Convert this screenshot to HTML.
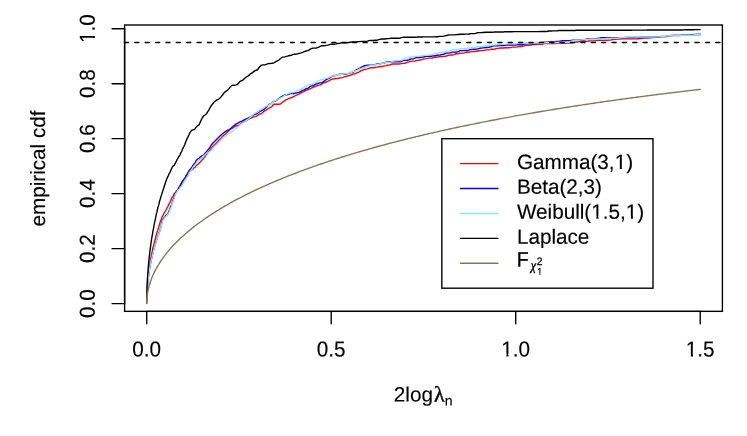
<!DOCTYPE html>
<html><head><meta charset="utf-8"><title>empirical cdf</title>
<style>
html,body{margin:0;padding:0;background:#fff;}
body{width:747px;height:436px;overflow:hidden;font-family:"Liberation Sans",sans-serif;}
</style></head><body>
<svg width="747" height="436" viewBox="0 0 747 436" style="display:block;will-change:transform">
<rect x="0" y="0" width="747" height="436" fill="#ffffff"/>
<defs><clipPath id="c1"><path d="M-2.070,-18.630 H14.490 V-2.678 H7.196 V2.070 H5.044 V-2.678 H-2.070 Z"/></clipPath><clipPath id="c1s"><path d="M-1.000,-9.000 H7.000 V-1.294 H3.477 V1.000 H2.437 V-1.294 H-1.000 Z"/></clipPath></defs>
<g fill="none" stroke-linejoin="round" stroke-linecap="butt" stroke-width="1.38">
<polyline stroke="#ff0000" points="146.97,292.37 147.22,287.71 147.47,284.14 147.72,281.13 147.97,278.49 148.22,276.09 148.47,273.90 148.72,271.87 148.97,269.96 149.22,268.14 149.47,266.42 149.72,264.78 149.97,263.21 150.22,261.65 150.47,260.34 150.72,258.89 150.97,257.35 151.22,255.94 151.47,254.75 151.72,253.59 151.97,252.52 152.22,251.61 152.47,250.16 152.72,248.29 152.97,247.15 153.22,246.50 153.47,245.65 153.72,244.72 153.97,243.98 154.22,243.04 154.47,241.64 154.72,240.75 154.97,240.25 155.22,239.28 155.47,238.09 155.72,236.81 155.97,235.75 156.22,235.14 156.47,234.32 156.72,233.24 156.97,232.45 157.22,231.72 157.47,230.86 157.72,230.15 157.97,229.45 158.22,228.55 158.47,227.69 158.72,227.03 158.97,226.29 159.22,225.21 159.47,224.23 159.72,223.48 159.97,222.72 160.00,222.58 160.50,221.03 161.00,219.83 161.50,218.52 162.00,217.13 162.50,216.18 163.00,215.38 163.50,214.38 164.00,213.19 164.50,212.27 165.00,211.58 165.50,210.76 166.00,210.01 166.50,209.03 167.00,207.83 167.50,207.11 168.00,206.35 168.50,205.04 169.00,203.88 169.50,203.04 170.00,202.11 170.50,201.01 171.00,199.65 171.50,198.40 172.00,197.55 172.50,196.81 173.00,196.08 173.50,195.05 174.00,193.86 174.50,193.25 175.00,193.04 175.50,192.42 176.00,191.53 176.50,190.92 177.00,190.42 177.50,189.83 178.00,189.12 178.50,188.21 179.00,187.25 179.50,186.50 180.00,185.59 180.50,184.43 181.00,183.75 181.50,183.06 182.00,182.16 182.50,181.47 183.00,180.82 183.50,180.14 184.00,179.40 184.50,178.76 185.00,178.12 185.50,177.12 186.00,175.94 186.50,175.25 187.00,174.93 187.50,174.08 188.00,173.13 188.50,172.56 189.00,172.09 189.50,171.67 190.00,171.15 190.50,170.59 191.00,170.20 191.50,169.88 192.00,169.54 192.50,169.50 193.00,169.17 193.50,168.10 194.00,167.66 194.50,167.66 195.00,167.66 195.50,166.65 196.00,165.93 196.50,165.67 197.00,165.10 197.50,164.55 198.00,164.23 198.50,163.85 199.00,163.34 199.50,162.85 200.00,162.26 201.25,160.86 202.50,159.50 203.75,158.11 205.00,156.60 206.25,154.84 207.50,153.25 208.75,151.67 210.00,149.90 211.25,148.33 212.50,146.98 213.75,145.55 215.00,144.28 216.25,143.16 217.50,141.77 218.75,140.38 220.00,139.24 221.25,137.85 222.50,136.38 223.75,135.22 225.00,134.39 226.25,133.40 227.50,131.98 228.75,130.58 230.00,129.39 231.25,128.74 232.50,128.21 233.75,127.27 235.00,126.46 236.25,126.00 237.50,125.56 238.75,125.10 240.00,124.52 241.25,123.50 242.50,122.48 243.75,121.80 245.00,121.18 246.25,120.52 247.50,119.87 248.75,119.07 250.00,118.38 251.25,118.04 252.50,117.43 253.75,116.82 255.00,116.65 256.25,116.29 257.50,115.50 258.75,114.54 260.00,113.97 261.25,113.74 262.50,112.77 263.75,111.42 265.00,110.61 266.25,109.88 267.50,109.01 268.75,108.32 270.00,107.71 271.25,107.11 272.50,105.71 273.75,104.22 275.00,104.22 276.25,104.22 277.50,104.22 278.75,104.22 280.00,104.10 281.25,103.19 282.50,102.29 283.75,101.43 285.00,100.28 286.25,99.58 287.50,99.06 288.75,98.46 290.00,98.10 291.25,97.79 292.50,97.03 293.75,96.39 295.00,95.95 296.25,95.26 297.50,94.62 298.75,94.05 300.00,93.39 301.25,92.67 302.50,92.09 303.75,91.56 305.00,90.96 306.25,90.39 307.50,89.89 308.75,89.42 310.00,88.80 311.25,88.16 312.50,87.58 313.75,86.98 315.00,86.53 316.25,86.15 317.50,85.54 318.75,85.06 320.00,84.83 321.25,84.34 322.50,83.45 323.75,82.73 325.00,82.51 326.25,82.01 327.50,81.31 328.75,80.89 330.00,80.13 331.25,79.38 332.50,79.05 333.75,78.85 335.00,78.53 336.25,78.51 337.50,78.51 338.75,78.22 340.00,77.84 341.25,77.84 342.50,77.56 343.75,77.10 345.00,76.66 346.25,76.34 347.50,76.00 348.75,75.62 350.00,75.33 351.25,74.80 352.50,74.29 353.75,74.07 355.00,73.75 356.25,73.13 357.50,72.62 358.75,72.10 360.00,71.25 361.25,70.67 362.50,70.23 363.75,69.64 365.00,69.29 366.25,69.15 367.50,68.84 368.75,68.30 370.00,68.02 371.25,67.75 372.50,67.75 373.75,67.75 375.00,67.47 376.25,67.08 377.50,67.08 378.75,66.75 380.00,66.51 381.25,66.51 382.50,66.51 383.75,66.14 385.00,65.88 386.25,65.64 387.50,65.27 388.75,65.09 390.00,64.81 391.25,64.28 392.50,64.05 393.75,64.05 395.00,64.05 396.25,64.05 397.50,64.05 398.75,64.03 400.00,63.86 401.25,63.55 402.50,63.34 403.75,63.34 405.00,63.28 406.25,62.63 407.50,62.10 408.75,61.85 410.00,61.54 411.25,61.30 412.50,61.16 413.75,61.09 415.00,61.02 416.25,60.69 417.50,60.43 418.75,60.25 420.00,60.02 421.25,59.82 422.50,59.34 423.75,58.93 425.00,58.84 426.25,58.61 427.50,58.32 428.75,58.14 430.00,58.14 431.25,58.14 432.50,58.01 433.75,57.54 435.00,57.30 436.25,57.23 437.50,57.06 438.75,56.74 440.00,56.57 441.25,56.51 442.50,56.51 443.75,56.51 445.00,56.41 446.25,56.02 447.50,55.57 448.75,55.22 450.00,55.15 451.25,55.05 452.50,54.98 453.75,54.64 455.00,53.99 456.25,53.77 457.50,53.73 458.75,53.54 460.00,53.21 461.25,53.10 462.50,53.10 463.75,53.07 465.00,52.71 466.25,52.31 467.50,52.27 468.75,52.27 470.00,51.90 471.25,51.66 472.50,51.66 473.75,51.66 475.00,51.51 476.25,51.27 477.50,51.03 478.75,50.77 480.00,50.65 481.25,50.59 482.50,50.59 483.75,50.46 485.00,50.04 486.25,49.91 487.50,49.91 488.75,49.91 490.00,49.62 491.25,49.25 492.50,49.25 493.75,49.25 495.00,49.15 496.25,48.44 497.50,48.37 498.75,48.37 500.00,47.95 501.25,47.95 502.50,47.95 503.75,47.95 505.00,47.80 506.25,47.80 507.50,47.80 508.75,47.80 510.00,47.67 511.25,47.42 512.50,47.10 513.75,47.08 515.00,47.08 516.25,47.08 517.50,46.93 518.75,46.62 520.00,46.62 521.25,46.57 522.50,46.22 523.75,45.94 525.00,45.62 526.25,45.39 527.50,45.39 528.75,45.38 530.00,45.17 531.25,45.02 532.50,44.68 533.75,44.62 535.00,44.62 536.25,44.62 537.50,44.32 538.75,44.32 540.00,44.32 541.25,44.32 542.50,44.17 543.75,43.59 545.00,43.59 546.25,43.59 547.50,43.59 548.75,43.59 550.00,43.59 551.25,43.59 552.50,43.59 553.75,43.59 555.00,43.59 556.25,43.55 557.50,43.39 558.75,43.35 560.00,43.35 561.25,43.35 562.50,43.31 563.75,43.25 565.00,43.25 566.25,43.13 567.50,43.13 568.75,43.13 570.00,43.13 571.25,42.93 572.50,42.88 573.75,42.58 575.00,42.12 576.25,41.99 577.50,41.99 578.75,41.77 580.00,41.34 581.25,41.33 582.50,41.33 583.75,41.33 585.00,41.33 586.25,41.33 587.50,41.33 588.75,40.97 590.00,40.90 591.25,40.90 592.50,40.90 593.75,40.90 595.00,40.88 596.25,40.48 597.50,40.33 598.75,40.31 600.00,40.31 601.25,40.31 602.50,40.31 603.75,40.31 605.00,40.31 606.25,40.31 607.50,40.31 608.75,40.15 610.00,40.12 611.25,39.88 612.50,39.53 613.75,39.45 615.00,39.36 616.25,39.21 617.50,39.18 618.75,39.18 620.00,39.11 621.25,38.93 622.50,38.93 623.75,38.93 625.00,38.93 626.25,38.93 627.50,38.93 628.75,38.93 630.00,38.91 631.25,38.82 632.50,38.82 633.75,38.82 635.00,38.82 636.25,38.82 637.50,38.82 638.75,38.73 640.00,38.65 641.25,38.61 642.50,38.20 643.75,37.97 645.00,37.97 646.25,37.97 647.50,37.97 648.75,37.97 650.00,37.83 651.25,37.73 652.50,37.51 653.75,37.28 655.00,37.28 656.25,37.28 657.50,37.28 658.75,37.28 660.00,36.86 661.25,36.52 662.50,36.52 663.75,36.52 665.00,36.52 666.25,36.50 667.50,36.47 668.75,36.09 670.00,35.79 671.25,35.79 672.50,35.79 673.75,35.54 675.00,35.54 676.25,35.54 677.50,35.54 678.75,35.54 680.00,35.47 681.25,35.42 682.50,35.42 683.75,35.42 685.00,35.42 686.25,35.42 687.50,35.42 688.75,35.20 690.00,35.17 691.25,35.17 692.50,34.60 693.75,34.47 695.00,34.47 696.25,34.47 697.50,34.47 698.75,34.47 700.00,34.47 700.70,34.47"/>
<polyline stroke="#0000ff" points="146.97,293.35 147.22,289.09 147.47,285.82 147.72,283.07 147.97,280.66 148.22,278.46 148.47,276.47 148.72,274.61 148.97,272.85 149.22,271.19 149.47,269.61 149.72,268.11 149.97,266.68 150.22,265.30 150.47,264.05 150.72,262.72 150.97,261.38 151.22,260.09 151.47,258.96 151.72,258.02 151.97,256.97 152.22,255.85 152.47,254.67 152.72,253.53 152.97,252.89 153.22,251.97 153.47,250.33 153.72,248.98 153.97,248.34 154.22,247.87 154.47,247.17 154.72,246.37 154.97,245.47 155.22,244.47 155.47,243.54 155.72,242.73 155.97,241.87 156.22,240.82 156.47,240.03 156.72,239.63 156.97,238.99 157.22,237.81 157.47,236.77 157.72,236.28 157.97,235.84 158.22,235.23 158.47,234.43 158.72,233.57 158.97,233.19 159.22,232.55 159.47,231.46 159.72,230.90 159.97,230.39 160.00,230.26 160.50,228.54 161.00,226.41 161.50,223.71 162.00,221.28 162.50,219.87 163.00,219.16 163.50,218.41 164.00,217.72 164.50,217.31 165.00,216.83 165.50,216.05 166.00,215.20 166.50,214.82 167.00,214.78 167.50,214.35 168.00,213.50 168.50,212.26 169.00,210.97 169.50,209.90 170.00,208.51 170.50,206.90 171.00,205.76 171.50,204.80 172.00,203.35 172.50,201.70 173.00,200.09 173.50,198.69 174.00,197.52 174.50,196.11 175.00,194.69 175.50,193.53 176.00,192.51 176.50,191.81 177.00,191.04 177.50,190.13 178.00,189.38 178.50,188.48 179.00,187.56 179.50,186.74 180.00,186.01 180.50,185.27 181.00,184.32 181.50,183.35 182.00,182.43 182.50,181.43 183.00,180.51 183.50,179.89 184.00,179.34 184.50,178.63 185.00,177.97 185.50,177.27 186.00,176.09 186.50,175.12 187.00,174.42 187.50,173.45 188.00,172.58 188.50,171.75 189.00,170.81 189.50,170.02 190.00,169.54 190.50,168.82 191.00,168.12 191.50,167.81 192.00,167.13 192.50,166.11 193.00,165.25 193.50,164.62 194.00,164.06 194.50,163.53 195.00,162.77 195.50,161.76 196.00,160.95 196.50,160.23 197.00,159.53 197.50,159.12 198.00,158.90 198.50,158.73 199.00,158.29 199.50,157.64 200.00,157.20 201.25,156.43 202.50,155.69 203.75,154.66 205.00,153.38 206.25,151.87 207.50,150.37 208.75,148.90 210.00,147.16 211.25,145.23 212.50,143.47 213.75,142.14 215.00,140.97 216.25,139.85 217.50,138.60 218.75,137.23 220.00,135.90 221.25,134.79 222.50,133.71 223.75,132.72 225.00,131.89 226.25,131.07 227.50,130.43 228.75,129.85 230.00,129.07 231.25,127.97 232.50,126.80 233.75,125.90 235.00,124.89 236.25,123.88 237.50,123.28 238.75,122.57 240.00,121.90 241.25,121.51 242.50,120.94 243.75,120.10 245.00,119.34 246.25,118.88 247.50,118.29 248.75,117.63 250.00,117.25 251.25,116.46 252.50,115.46 253.75,114.85 255.00,114.36 256.25,114.01 257.50,113.29 258.75,112.14 260.00,111.34 261.25,110.76 262.50,110.16 263.75,109.55 265.00,108.48 266.25,107.22 267.50,105.94 268.75,104.66 270.00,103.94 271.25,103.30 272.50,102.25 273.75,101.38 275.00,101.01 276.25,100.54 277.50,99.45 278.75,98.54 280.00,97.83 281.25,96.82 282.50,96.03 283.75,95.50 285.00,94.98 286.25,94.71 287.50,94.69 288.75,94.34 290.00,93.61 291.25,93.55 292.50,93.55 293.75,93.55 295.00,93.37 296.25,92.88 297.50,92.56 298.75,92.32 300.00,91.90 301.25,91.14 302.50,90.45 303.75,90.11 305.00,89.40 306.25,88.57 307.50,88.30 308.75,87.68 310.00,86.58 311.25,85.91 312.50,85.81 313.75,85.44 315.00,84.54 316.25,83.95 317.50,83.74 318.75,83.17 320.00,82.87 321.25,82.87 322.50,82.42 323.75,81.35 325.00,80.46 326.25,79.65 327.50,78.81 328.75,78.33 330.00,77.70 331.25,76.77 332.50,76.19 333.75,75.94 335.00,75.54 336.25,75.19 337.50,74.94 338.75,74.46 340.00,74.20 341.25,74.20 342.50,74.20 343.75,74.20 345.00,74.20 346.25,74.10 347.50,73.68 348.75,73.30 350.00,72.84 351.25,72.53 352.50,72.47 353.75,71.80 355.00,70.71 356.25,69.99 357.50,69.40 358.75,68.73 360.00,68.05 361.25,67.23 362.50,66.52 363.75,66.04 365.00,65.74 366.25,65.44 367.50,65.26 368.75,65.26 370.00,65.25 371.25,65.13 372.50,65.09 373.75,65.05 375.00,64.68 376.25,64.25 377.50,63.98 378.75,63.82 380.00,63.82 381.25,63.47 382.50,63.05 383.75,63.05 385.00,62.75 386.25,62.00 387.50,61.87 388.75,61.79 390.00,61.77 391.25,61.77 392.50,61.77 393.75,61.77 395.00,61.77 396.25,61.77 397.50,61.77 398.75,61.77 400.00,61.72 401.25,61.42 402.50,60.88 403.75,60.41 405.00,60.41 406.25,60.41 407.50,60.31 408.75,59.80 410.00,59.21 411.25,58.93 412.50,58.93 413.75,58.71 415.00,58.09 416.25,57.66 417.50,57.64 418.75,57.64 420.00,57.54 421.25,57.23 422.50,57.16 423.75,57.02 425.00,56.63 426.25,56.24 427.50,56.24 428.75,56.24 430.00,56.24 431.25,56.24 432.50,55.97 433.75,55.85 435.00,55.80 436.25,55.49 437.50,55.23 438.75,55.07 440.00,54.98 441.25,54.67 442.50,54.43 443.75,54.26 445.00,53.68 446.25,53.16 447.50,53.16 448.75,53.16 450.00,52.94 451.25,52.53 452.50,52.17 453.75,52.11 455.00,52.07 456.25,51.97 457.50,51.86 458.75,51.31 460.00,50.65 461.25,50.65 462.50,50.65 463.75,50.65 465.00,50.56 466.25,50.50 467.50,50.47 468.75,50.17 470.00,49.67 471.25,49.55 472.50,49.38 473.75,49.20 475.00,49.20 476.25,49.20 477.50,48.93 478.75,48.56 480.00,48.24 481.25,47.96 482.50,47.84 483.75,47.75 485.00,47.61 486.25,47.51 487.50,47.51 488.75,47.37 490.00,46.98 491.25,46.68 492.50,46.07 493.75,45.93 495.00,45.93 496.25,45.93 497.50,45.79 498.75,45.54 500.00,45.54 501.25,45.54 502.50,45.54 503.75,45.50 505.00,45.26 506.25,45.02 507.50,44.99 508.75,44.99 510.00,44.99 511.25,44.94 512.50,44.94 513.75,44.94 515.00,44.94 516.25,44.94 517.50,44.73 518.75,44.73 520.00,44.73 521.25,44.73 522.50,44.73 523.75,44.41 525.00,43.94 526.25,43.82 527.50,43.82 528.75,43.82 530.00,43.82 531.25,43.82 532.50,43.77 533.75,43.77 535.00,43.61 536.25,43.23 537.50,43.23 538.75,43.08 540.00,42.64 541.25,42.48 542.50,42.48 543.75,42.38 545.00,42.16 546.25,42.16 547.50,42.16 548.75,42.03 550.00,41.90 551.25,41.73 552.50,41.65 553.75,41.65 555.00,41.65 556.25,41.41 557.50,41.39 558.75,41.38 560.00,41.12 561.25,40.87 562.50,40.78 563.75,40.78 565.00,40.78 566.25,40.78 567.50,40.78 568.75,40.78 570.00,40.68 571.25,40.32 572.50,40.29 573.75,40.29 575.00,40.29 576.25,40.29 577.50,40.29 578.75,40.22 580.00,39.98 581.25,39.98 582.50,39.98 583.75,39.98 585.00,39.72 586.25,39.09 587.50,38.88 588.75,38.88 590.00,38.88 591.25,38.85 592.50,38.85 593.75,38.85 595.00,38.85 596.25,38.85 597.50,38.42 598.75,38.15 600.00,37.99 601.25,37.75 602.50,37.75 603.75,37.75 605.00,37.75 606.25,37.75 607.50,37.65 608.75,37.65 610.00,37.64 611.25,37.63 612.50,37.63 613.75,37.63 615.00,37.63 616.25,37.63 617.50,37.63 618.75,37.63 620.00,37.63 621.25,37.63 622.50,37.63 623.75,37.63 625.00,37.55 626.25,37.55 627.50,37.55 628.75,37.55 630.00,37.55 631.25,37.55 632.50,37.55 633.75,37.55 635.00,37.55 636.25,37.55 637.50,37.55 638.75,37.50 640.00,37.21 641.25,37.19 642.50,37.19 643.75,37.19 645.00,37.19 646.25,37.19 647.50,37.19 648.75,37.19 650.00,37.15 651.25,37.15 652.50,37.15 653.75,37.13 655.00,36.88 656.25,36.88 657.50,36.88 658.75,36.88 660.00,36.78 661.25,36.78 662.50,36.78 663.75,36.68 665.00,36.60 666.25,36.44 667.50,36.09 668.75,35.87 670.00,35.59 671.25,35.33 672.50,35.33 673.75,35.33 675.00,35.33 676.25,35.33 677.50,35.33 678.75,35.33 680.00,35.33 681.25,35.14 682.50,34.95 683.75,34.95 685.00,34.95 686.25,34.95 687.50,34.95 688.75,34.95 690.00,34.95 691.25,34.73 692.50,34.68 693.75,34.68 695.00,34.68 696.25,34.54 697.50,34.54 698.75,34.54 700.00,34.42 700.70,34.40"/>
<polyline stroke="#8ee5ee" points="146.97,293.41 147.22,289.17 147.47,285.92 147.72,283.19 147.97,280.78 148.22,278.60 148.47,276.62 148.72,274.77 148.97,273.02 149.22,271.37 149.47,269.80 149.72,268.31 149.97,266.88 150.22,265.17 150.47,264.04 150.72,262.94 150.97,261.77 151.22,260.62 151.47,259.36 151.72,258.31 151.97,257.45 152.22,256.21 152.47,254.85 152.72,253.85 152.97,253.19 153.22,252.35 153.47,251.06 153.72,250.02 153.97,249.15 154.22,248.03 154.47,247.18 154.72,246.58 154.97,245.72 155.22,244.80 155.47,243.65 155.72,242.55 155.97,241.97 156.22,241.08 156.47,240.13 156.72,239.73 156.97,239.14 157.22,238.11 157.47,237.23 157.72,236.66 157.97,236.21 158.22,235.75 158.47,235.02 158.72,234.25 158.97,233.57 159.22,232.63 159.47,231.80 159.72,231.35 159.97,230.70 160.00,230.38 160.50,228.71 161.00,226.78 161.50,224.76 162.00,223.30 162.50,221.73 163.00,220.11 163.50,219.21 164.00,218.61 164.50,217.94 165.00,217.09 165.50,216.73 166.00,216.73 166.50,216.17 167.00,215.14 167.50,214.62 168.00,214.15 168.50,213.41 169.00,212.48 169.50,211.15 170.00,209.80 170.50,208.61 171.00,207.45 171.50,205.93 172.00,204.09 172.50,202.65 173.00,201.66 173.50,200.37 174.00,198.89 174.50,197.53 175.00,196.02 175.50,194.51 176.00,193.29 176.50,192.56 177.00,191.90 177.50,190.87 178.00,190.09 178.50,189.65 179.00,189.23 179.50,188.58 180.00,187.58 180.50,186.88 181.00,186.72 181.50,186.48 182.00,185.76 182.50,184.79 183.00,183.87 183.50,183.04 184.00,182.21 184.50,181.30 185.00,180.25 185.50,179.34 186.00,178.56 186.50,177.77 187.00,177.18 187.50,176.71 188.00,175.91 188.50,174.60 189.00,173.22 189.50,172.38 190.00,171.85 190.50,171.00 191.00,170.15 191.50,169.84 192.00,169.21 192.50,168.01 193.00,167.14 193.50,166.62 194.00,166.21 194.50,165.92 195.00,165.40 195.50,164.53 196.00,163.80 196.50,163.31 197.00,162.87 197.50,162.29 198.00,161.47 198.50,160.54 199.00,159.86 199.50,159.57 200.00,159.42 201.25,158.26 202.50,156.90 203.75,155.87 205.00,154.94 206.25,153.78 207.50,152.82 208.75,152.39 210.00,151.72 211.25,150.28 212.50,148.71 213.75,147.25 215.00,146.01 216.25,145.04 217.50,143.83 218.75,142.36 220.00,141.03 221.25,139.84 222.50,138.55 223.75,137.27 225.00,136.38 226.25,135.55 227.50,134.50 228.75,133.49 230.00,132.57 231.25,131.89 232.50,131.20 233.75,130.19 235.00,129.28 236.25,128.49 237.50,127.63 238.75,126.36 240.00,124.92 241.25,123.99 242.50,123.11 243.75,122.22 245.00,121.52 246.25,120.67 247.50,119.59 248.75,118.52 250.00,117.49 251.25,116.19 252.50,115.04 253.75,114.00 255.00,113.10 256.25,112.56 257.50,111.94 258.75,111.09 260.00,109.99 261.25,109.04 262.50,108.47 263.75,107.77 265.00,106.93 266.25,106.23 267.50,105.70 268.75,105.05 270.00,104.19 271.25,103.40 272.50,102.44 273.75,101.46 275.00,100.67 276.25,99.97 277.50,99.56 278.75,99.06 280.00,98.29 281.25,97.65 282.50,97.04 283.75,96.14 285.00,95.28 286.25,94.45 287.50,93.85 288.75,93.47 290.00,92.98 291.25,92.69 292.50,92.50 293.75,92.13 295.00,91.51 296.25,90.93 297.50,90.58 298.75,90.08 300.00,89.56 301.25,89.03 302.50,88.37 303.75,87.60 305.00,86.86 306.25,86.09 307.50,85.37 308.75,84.94 310.00,84.67 311.25,84.58 312.50,84.02 313.75,83.06 315.00,82.61 316.25,82.09 317.50,81.43 318.75,80.97 320.00,80.27 321.25,79.57 322.50,79.32 323.75,79.11 325.00,78.62 326.25,78.15 327.50,78.01 328.75,77.62 330.00,76.84 331.25,76.37 332.50,76.06 333.75,75.85 335.00,75.75 336.25,75.20 337.50,74.52 338.75,74.50 340.00,74.50 341.25,74.50 342.50,74.25 343.75,73.89 345.00,73.72 346.25,73.63 347.50,73.49 348.75,72.97 350.00,72.56 351.25,72.28 352.50,71.77 353.75,71.38 355.00,71.23 356.25,70.75 357.50,70.06 358.75,69.41 360.00,68.93 361.25,68.69 362.50,68.29 363.75,67.77 365.00,67.28 366.25,66.74 367.50,66.29 368.75,66.07 370.00,65.75 371.25,65.41 372.50,65.33 373.75,65.19 375.00,64.71 376.25,64.38 377.50,64.38 378.75,64.32 380.00,63.78 381.25,63.36 382.50,63.29 383.75,63.02 385.00,62.54 386.25,62.54 387.50,62.53 388.75,62.22 390.00,62.19 391.25,61.90 392.50,61.43 393.75,61.08 395.00,60.78 396.25,60.78 397.50,60.78 398.75,60.64 400.00,60.50 401.25,60.23 402.50,59.84 403.75,59.13 405.00,58.31 406.25,58.10 407.50,57.92 408.75,57.34 410.00,57.06 411.25,57.06 412.50,56.69 413.75,56.34 415.00,56.34 416.25,56.34 417.50,56.34 418.75,56.34 420.00,56.34 421.25,55.84 422.50,55.34 423.75,55.34 425.00,55.34 426.25,55.34 427.50,55.34 428.75,55.11 430.00,54.86 431.25,54.69 432.50,54.45 433.75,54.11 435.00,53.67 436.25,53.36 437.50,53.08 438.75,52.61 440.00,52.37 441.25,52.37 442.50,52.37 443.75,52.37 445.00,51.93 446.25,51.28 447.50,51.15 448.75,50.87 450.00,50.58 451.25,50.45 452.50,49.79 453.75,49.53 455.00,49.53 456.25,49.53 457.50,49.53 458.75,49.08 460.00,48.88 461.25,48.88 462.50,48.60 463.75,48.60 465.00,48.60 466.25,48.31 467.50,47.98 468.75,47.92 470.00,47.76 471.25,47.55 472.50,47.55 473.75,47.55 475.00,47.55 476.25,47.01 477.50,46.67 478.75,46.67 480.00,46.57 481.25,46.46 482.50,46.46 483.75,46.36 485.00,46.01 486.25,45.54 487.50,45.37 488.75,45.37 490.00,45.37 491.25,45.29 492.50,44.84 493.75,44.84 495.00,44.84 496.25,44.73 497.50,44.54 498.75,44.54 500.00,44.54 501.25,44.43 502.50,44.42 503.75,44.42 505.00,44.33 506.25,43.95 507.50,43.90 508.75,43.90 510.00,43.90 511.25,43.90 512.50,43.90 513.75,43.90 515.00,43.90 516.25,43.81 517.50,43.31 518.75,43.30 520.00,43.30 521.25,43.30 522.50,43.30 523.75,43.27 525.00,43.05 526.25,43.03 527.50,43.03 528.75,43.03 530.00,43.03 531.25,42.95 532.50,42.95 533.75,42.95 535.00,42.95 536.25,42.95 537.50,42.95 538.75,42.95 540.00,42.95 541.25,42.95 542.50,42.95 543.75,42.95 545.00,42.89 546.25,42.73 547.50,42.73 548.75,42.73 550.00,42.73 551.25,42.69 552.50,42.49 553.75,42.49 555.00,42.49 556.25,42.49 557.50,42.49 558.75,42.49 560.00,42.45 561.25,42.39 562.50,42.39 563.75,42.39 565.00,42.39 566.25,42.28 567.50,42.06 568.75,42.02 570.00,41.79 571.25,41.17 572.50,40.80 573.75,40.71 575.00,40.45 576.25,40.38 577.50,40.38 578.75,40.28 580.00,40.06 581.25,39.90 582.50,39.68 583.75,39.58 585.00,39.37 586.25,39.37 587.50,39.37 588.75,39.37 590.00,39.24 591.25,39.24 592.50,39.24 593.75,39.24 595.00,39.24 596.25,39.24 597.50,38.99 598.75,38.99 600.00,38.99 601.25,38.99 602.50,38.99 603.75,38.99 605.00,38.65 606.25,38.49 607.50,38.47 608.75,38.39 610.00,38.39 611.25,38.29 612.50,38.20 613.75,38.20 615.00,38.20 616.25,38.20 617.50,38.20 618.75,38.01 620.00,37.45 621.25,37.33 622.50,37.33 623.75,37.33 625.00,37.33 626.25,37.31 627.50,37.18 628.75,37.18 630.00,37.18 631.25,37.18 632.50,37.18 633.75,37.18 635.00,37.12 636.25,37.12 637.50,37.12 638.75,37.12 640.00,37.12 641.25,37.12 642.50,37.12 643.75,37.12 645.00,37.12 646.25,37.12 647.50,37.12 648.75,37.12 650.00,37.12 651.25,37.12 652.50,37.12 653.75,37.02 655.00,36.88 656.25,36.88 657.50,36.88 658.75,36.88 660.00,36.82 661.25,36.71 662.50,36.71 663.75,36.71 665.00,36.43 666.25,36.10 667.50,35.95 668.75,35.76 670.00,35.71 671.25,35.71 672.50,35.71 673.75,35.71 675.00,35.53 676.25,35.35 677.50,35.35 678.75,35.32 680.00,35.19 681.25,35.19 682.50,35.19 683.75,35.19 685.00,35.19 686.25,35.19 687.50,35.19 688.75,35.19 690.00,35.19 691.25,35.19 692.50,35.18 693.75,35.04 695.00,34.79 696.25,34.79 697.50,34.79 698.75,34.79 700.00,34.71 700.70,34.70"/>
<polyline stroke="#000000" points="146.72,303.45 146.97,288.89 147.22,282.79 147.47,278.12 147.72,274.20 147.97,270.75 148.22,267.62 148.47,264.78 148.72,262.14 148.97,259.65 149.22,257.29 149.47,255.06 149.72,252.94 149.97,250.91 150.22,248.94 150.47,247.21 150.72,245.22 150.97,243.52 151.22,241.77 151.47,239.88 151.72,238.27 151.97,236.85 152.22,235.49 152.47,234.18 152.72,232.66 152.97,230.93 153.22,229.52 153.47,228.38 153.72,227.02 153.97,225.47 154.22,224.31 154.47,223.17 154.72,221.88 154.97,220.91 155.22,219.88 155.47,218.77 155.72,217.46 155.97,215.90 156.22,214.66 156.47,213.79 156.72,212.97 156.97,211.86 157.22,210.49 157.47,209.29 157.72,208.26 157.97,207.32 158.22,206.44 158.47,205.77 158.72,205.01 158.97,203.77 159.22,202.69 159.47,201.80 159.72,200.73 159.97,199.91 160.00,199.91 160.50,198.19 161.00,196.40 161.50,194.90 162.00,193.23 162.50,191.63 163.00,190.23 163.50,188.75 164.00,187.19 164.50,185.52 165.00,183.97 165.50,182.46 166.00,181.09 166.50,179.89 167.00,178.39 167.50,177.23 168.00,176.51 168.50,175.17 169.00,173.97 169.50,173.24 170.00,172.24 170.50,171.13 171.00,169.99 171.50,168.83 172.00,167.66 172.50,166.67 173.00,166.10 173.50,165.69 174.00,165.39 174.50,164.73 175.00,163.64 175.50,162.79 176.00,161.94 176.50,160.91 177.00,159.81 177.50,158.85 178.00,158.04 178.50,157.21 179.00,156.38 179.50,155.58 180.00,154.81 180.50,153.76 181.00,152.70 181.50,151.77 182.00,150.59 182.50,149.30 183.00,148.12 183.50,147.12 184.00,146.23 184.50,145.12 185.00,143.88 185.50,142.60 186.00,141.28 186.50,139.97 187.00,138.81 187.50,137.93 188.00,136.89 188.50,135.76 189.00,134.70 189.50,133.51 190.00,132.57 190.50,131.93 191.00,131.16 191.50,130.54 192.00,130.14 192.50,129.92 193.00,129.92 193.50,129.65 194.00,129.47 194.50,129.47 195.00,129.01 195.50,127.98 196.00,127.27 196.50,126.88 197.00,126.39 197.50,125.76 198.00,125.48 198.50,125.35 199.00,124.87 199.50,123.92 200.00,122.70 201.25,119.85 202.50,117.48 203.75,115.86 205.00,115.05 206.25,114.02 207.50,112.17 208.75,110.11 210.00,107.82 211.25,105.59 212.50,103.96 213.75,102.55 215.00,101.28 216.25,100.37 217.50,99.70 218.75,99.02 220.00,97.99 221.25,96.63 222.50,95.02 223.75,93.24 225.00,91.96 226.25,91.19 227.50,90.22 228.75,88.84 230.00,87.27 231.25,85.93 232.50,85.35 233.75,85.26 235.00,85.16 236.25,84.84 237.50,84.32 238.75,82.98 240.00,81.43 241.25,80.86 242.50,80.42 243.75,79.28 245.00,77.95 246.25,76.99 247.50,76.32 248.75,75.41 250.00,74.27 251.25,73.36 252.50,72.64 253.75,71.59 255.00,70.61 256.25,70.27 257.50,69.74 258.75,68.03 260.00,66.39 261.25,65.38 262.50,64.83 263.75,64.83 265.00,64.83 266.25,64.29 267.50,63.94 268.75,63.69 270.00,63.45 271.25,63.42 272.50,63.27 273.75,62.83 275.00,62.12 276.25,61.45 277.50,60.96 278.75,60.26 280.00,59.11 281.25,57.88 282.50,57.09 283.75,57.08 285.00,56.88 286.25,56.42 287.50,56.15 288.75,55.71 290.00,55.54 291.25,55.37 292.50,54.68 293.75,54.30 295.00,54.30 296.25,54.17 297.50,53.81 298.75,53.49 300.00,53.15 301.25,52.93 302.50,52.47 303.75,51.93 305.00,51.45 306.25,50.98 307.50,50.69 308.75,50.18 310.00,49.32 311.25,48.59 312.50,48.20 313.75,48.18 315.00,48.18 316.25,47.98 317.50,47.53 318.75,47.08 320.00,46.49 321.25,45.79 322.50,45.73 323.75,45.73 325.00,45.66 326.25,45.33 327.50,45.18 328.75,44.82 330.00,44.35 331.25,44.22 332.50,44.22 333.75,44.22 335.00,44.13 336.25,43.89 337.50,43.51 338.75,43.36 340.00,43.25 341.25,42.90 342.50,42.70 343.75,42.70 345.00,42.70 346.25,42.70 347.50,42.70 348.75,42.45 350.00,42.23 351.25,42.06 352.50,42.06 353.75,42.06 355.00,42.06 356.25,41.93 357.50,41.64 358.75,41.64 360.00,41.59 361.25,41.43 362.50,41.43 363.75,41.43 365.00,41.43 366.25,41.43 367.50,41.13 368.75,40.67 370.00,40.55 371.25,40.55 372.50,40.55 373.75,40.51 375.00,40.28 376.25,40.28 377.50,40.16 378.75,39.65 380.00,39.30 381.25,38.99 382.50,38.99 383.75,38.99 385.00,38.99 386.25,38.70 387.50,38.66 388.75,38.66 390.00,38.34 391.25,38.22 392.50,38.22 393.75,38.22 395.00,38.22 396.25,38.22 397.50,38.22 398.75,38.22 400.00,37.99 401.25,37.61 402.50,37.43 403.75,37.31 405.00,37.31 406.25,37.31 407.50,37.31 408.75,37.31 410.00,37.31 411.25,37.31 412.50,37.31 413.75,37.31 415.00,37.27 416.25,37.12 417.50,37.02 418.75,37.02 420.00,36.98 421.25,36.94 422.50,36.94 423.75,36.87 425.00,36.82 426.25,36.82 427.50,36.82 428.75,36.82 430.00,36.82 431.25,36.82 432.50,36.82 433.75,36.82 435.00,36.82 436.25,36.74 437.50,36.74 438.75,36.56 440.00,36.43 441.25,36.34 442.50,36.32 443.75,36.08 445.00,35.80 446.25,35.66 447.50,35.26 448.75,34.91 450.00,34.91 451.25,34.91 452.50,34.91 453.75,34.91 455.00,34.91 456.25,34.64 457.50,34.53 458.75,34.53 460.00,34.30 461.25,34.30 462.50,34.30 463.75,34.19 465.00,34.12 466.25,34.12 467.50,34.12 468.75,34.12 470.00,33.76 471.25,33.62 472.50,33.62 473.75,33.62 475.00,33.60 476.25,33.18 477.50,32.70 478.75,32.61 480.00,32.61 481.25,32.61 482.50,32.55 483.75,32.52 485.00,32.28 486.25,32.26 487.50,32.26 488.75,32.26 490.00,32.26 491.25,32.26 492.50,32.26 493.75,32.07 495.00,31.94 496.25,31.94 497.50,31.94 498.75,31.94 500.00,31.94 501.25,31.94 502.50,31.94 503.75,31.94 505.00,31.75 506.25,31.75 507.50,31.75 508.75,31.75 510.00,31.75 511.25,31.75 512.50,31.75 513.75,31.62 515.00,31.62 516.25,31.62 517.50,31.62 518.75,31.62 520.00,31.62 521.25,31.62 522.50,31.62 523.75,31.62 525.00,31.62 526.25,31.62 527.50,31.62 528.75,31.62 530.00,31.62 531.25,31.62 532.50,31.62 533.75,31.62 535.00,31.62 536.25,31.62 537.50,31.62 538.75,31.62 540.00,31.55 541.25,31.55 542.50,31.55 543.75,31.55 545.00,31.55 546.25,31.55 547.50,31.28 548.75,31.03 550.00,30.97 551.25,30.97 552.50,30.93 553.75,30.93 555.00,30.93 556.25,30.93 557.50,30.76 558.75,30.45 560.00,30.45 561.25,30.45 562.50,30.45 563.75,30.45 565.00,30.45 566.25,30.45 567.50,30.45 568.75,30.45 570.00,30.45 571.25,30.45 572.50,30.45 573.75,30.45 575.00,30.45 576.25,30.30 577.50,30.30 578.75,30.30 580.00,30.30 581.25,30.30 582.50,30.30 583.75,30.30 585.00,30.30 586.25,30.30 587.50,30.30 588.75,30.30 590.00,30.30 591.25,30.30 592.50,30.30 593.75,30.30 595.00,30.30 596.25,30.30 597.50,30.30 598.75,30.30 600.00,30.30 601.25,30.30 602.50,30.30 603.75,30.30 605.00,30.30 606.25,30.30 607.50,30.30 608.75,30.30 610.00,30.30 611.25,30.30 612.50,30.30 613.75,30.30 615.00,30.30 616.25,30.30 617.50,30.30 618.75,30.30 620.00,30.30 621.25,30.30 622.50,30.30 623.75,30.30 625.00,30.30 626.25,30.30 627.50,30.30 628.75,30.30 630.00,30.30 631.25,30.30 632.50,30.18 633.75,30.18 635.00,30.18 636.25,30.18 637.50,30.18 638.75,30.18 640.00,30.18 641.25,30.18 642.50,30.11 643.75,30.11 645.00,30.11 646.25,30.11 647.50,30.06 648.75,30.06 650.00,30.06 651.25,30.06 652.50,30.06 653.75,30.06 655.00,30.06 656.25,30.06 657.50,30.06 658.75,30.06 660.00,30.06 661.25,30.06 662.50,30.06 663.75,30.06 665.00,30.06 666.25,30.06 667.50,30.06 668.75,30.06 670.00,30.06 671.25,30.06 672.50,30.06 673.75,30.06 675.00,30.06 676.25,30.06 677.50,30.06 678.75,30.06 680.00,30.06 681.25,29.99 682.50,29.99 683.75,29.85 685.00,29.72 686.25,29.72 687.50,29.72 688.75,29.72 690.00,29.72 691.25,29.71 692.50,29.69 693.75,29.69 695.00,29.57 696.25,29.57 697.50,29.57 698.75,29.57 700.00,29.57 700.70,29.57"/>
<polyline stroke="#8b7355" stroke-linecap="round" points="146.72,303.65 146.79,300.55 146.90,298.74 147.09,296.71 147.46,293.84 147.83,291.64 149.21,285.64 150.60,281.21 151.98,277.52 153.36,274.30 154.75,271.41 156.13,268.76 157.52,266.30 158.90,264.01 160.29,261.84 161.67,259.79 163.06,257.83 164.44,255.96 165.82,254.16 167.21,252.43 168.59,250.76 169.98,249.15 171.36,247.58 172.75,246.06 174.13,244.59 175.52,243.15 176.90,241.76 178.28,240.39 179.67,239.06 181.05,237.76 182.44,236.48 183.82,235.23 185.21,234.01 186.59,232.82 187.98,231.64 189.36,230.49 190.74,229.35 192.13,228.24 193.51,227.15 194.90,226.07 196.28,225.01 197.67,223.97 199.05,222.95 200.44,221.94 201.82,220.94 203.20,219.96 204.59,218.99 205.97,218.04 207.36,217.10 208.74,216.17 210.13,215.25 211.51,214.34 212.90,213.45 214.28,212.57 215.66,211.70 217.05,210.83 218.43,209.98 219.82,209.14 221.20,208.31 222.59,207.48 223.97,206.67 225.36,205.86 226.74,205.07 228.12,204.28 229.51,203.50 230.89,202.72 232.28,201.96 233.66,201.20 235.05,200.45 236.43,199.71 237.82,198.97 239.20,198.24 240.58,197.52 241.97,196.81 243.35,196.10 244.74,195.40 246.12,194.70 247.51,194.01 248.89,193.33 250.28,192.65 251.66,191.98 253.04,191.31 254.43,190.65 255.81,189.99 257.20,189.34 258.58,188.70 259.97,188.06 261.35,187.42 262.74,186.79 264.12,186.17 265.50,185.55 266.89,184.93 268.27,184.32 269.66,183.72 271.04,183.12 272.43,182.52 273.81,181.93 275.20,181.34 276.58,180.75 277.96,180.17 279.35,179.60 280.73,179.03 282.12,178.46 283.50,177.90 284.89,177.34 286.27,176.78 287.66,176.23 289.04,175.68 290.42,175.14 291.81,174.60 293.19,174.06 294.58,173.52 295.96,172.99 297.35,172.47 298.73,171.94 300.12,171.42 301.50,170.91 302.88,170.39 304.27,169.88 305.65,169.38 307.04,168.87 308.42,168.37 309.81,167.87 311.19,167.38 312.58,166.89 313.96,166.40 315.34,165.91 316.73,165.43 318.11,164.95 319.50,164.47 320.88,164.00 322.27,163.52 323.65,163.06 325.04,162.59 326.42,162.13 327.80,161.66 329.19,161.21 330.57,160.75 331.96,160.30 333.34,159.85 334.73,159.40 336.11,158.95 337.50,158.51 338.88,158.07 340.26,157.63 341.65,157.19 343.03,156.76 344.42,156.33 345.80,155.90 347.19,155.47 348.57,155.05 349.96,154.63 351.34,154.21 352.72,153.79 354.11,153.37 355.49,152.96 356.88,152.55 358.26,152.14 359.65,151.73 361.03,151.33 362.42,150.93 363.80,150.52 365.18,150.13 366.57,149.73 367.95,149.33 369.34,148.94 370.72,148.55 372.11,148.16 373.49,147.77 374.88,147.39 376.26,147.01 377.64,146.62 379.03,146.25 380.41,145.87 381.80,145.49 383.18,145.12 384.57,144.75 385.95,144.37 387.34,144.01 388.72,143.64 390.10,143.27 391.49,142.91 392.87,142.55 394.26,142.19 395.64,141.83 397.03,141.47 398.41,141.12 399.80,140.76 401.18,140.41 402.56,140.06 403.95,139.71 405.33,139.37 406.72,139.02 408.10,138.68 409.49,138.34 410.87,137.99 412.26,137.66 413.64,137.32 415.02,136.98 416.41,136.65 417.79,136.31 419.18,135.98 420.56,135.65 421.95,135.32 423.33,134.99 424.72,134.67 426.10,134.34 427.48,134.02 428.87,133.70 430.25,133.38 431.64,133.06 433.02,132.74 434.41,132.43 435.79,132.11 437.18,131.80 438.56,131.48 439.94,131.17 441.33,130.86 442.71,130.56 444.10,130.25 445.48,129.94 446.87,129.64 448.25,129.34 449.64,129.03 451.02,128.73 452.40,128.43 453.79,128.13 455.17,127.84 456.56,127.54 457.94,127.25 459.33,126.95 460.71,126.66 462.10,126.37 463.48,126.08 464.86,125.79 466.25,125.51 467.63,125.22 469.02,124.93 470.40,124.65 471.79,124.37 473.17,124.09 474.56,123.81 475.94,123.53 477.32,123.25 478.71,122.97 480.09,122.69 481.48,122.42 482.86,122.14 484.25,121.87 485.63,121.60 487.02,121.33 488.40,121.06 489.78,120.79 491.17,120.52 492.55,120.26 493.94,119.99 495.32,119.73 496.71,119.46 498.09,119.20 499.48,118.94 500.86,118.68 502.24,118.42 503.63,118.16 505.01,117.90 506.40,117.65 507.78,117.39 509.17,117.14 510.55,116.88 511.94,116.63 513.32,116.38 514.70,116.13 516.09,115.88 517.47,115.63 518.86,115.38 520.24,115.13 521.63,114.89 523.01,114.64 524.40,114.40 525.78,114.16 527.16,113.91 528.55,113.67 529.93,113.43 531.32,113.19 532.70,112.95 534.09,112.71 535.47,112.48 536.86,112.24 538.24,112.00 539.62,111.77 541.01,111.54 542.39,111.30 543.78,111.07 545.16,110.84 546.55,110.61 547.93,110.38 549.32,110.15 550.70,109.92 552.08,109.70 553.47,109.47 554.85,109.24 556.24,109.02 557.62,108.80 559.01,108.57 560.39,108.35 561.78,108.13 563.16,107.91 564.54,107.69 565.93,107.47 567.31,107.25 568.70,107.03 570.08,106.82 571.47,106.60 572.85,106.38 574.24,106.17 575.62,105.96 577.00,105.74 578.39,105.53 579.77,105.32 581.16,105.11 582.54,104.90 583.93,104.69 585.31,104.48 586.70,104.27 588.08,104.06 589.46,103.86 590.85,103.65 592.23,103.45 593.62,103.24 595.00,103.04 596.39,102.84 597.77,102.63 599.16,102.43 600.54,102.23 601.92,102.03 603.31,101.83 604.69,101.63 606.08,101.43 607.46,101.24 608.85,101.04 610.23,100.84 611.62,100.65 613.00,100.45 614.38,100.26 615.77,100.06 617.15,99.87 618.54,99.68 619.92,99.49 621.31,99.30 622.69,99.11 624.08,98.92 625.46,98.73 626.84,98.54 628.23,98.35 629.61,98.16 631.00,97.98 632.38,97.79 633.77,97.60 635.15,97.42 636.54,97.24 637.92,97.05 639.30,96.87 640.69,96.69 642.07,96.50 643.46,96.32 644.84,96.14 646.23,95.96 647.61,95.78 649.00,95.60 650.38,95.43 651.76,95.25 653.15,95.07 654.53,94.89 655.92,94.72 657.30,94.54 658.69,94.37 660.07,94.19 661.46,94.02 662.84,93.85 664.22,93.67 665.61,93.50 666.99,93.33 668.38,93.16 669.76,92.99 671.15,92.82 672.53,92.65 673.92,92.48 675.30,92.31 676.68,92.15 678.07,91.98 679.45,91.81 680.84,91.65 682.22,91.48 683.61,91.31 684.99,91.15 686.38,90.99 687.76,90.82 689.14,90.66 690.53,90.50 691.91,90.33 693.30,90.17 694.68,90.01 696.07,89.85 697.45,89.69 698.84,89.53 700.22,89.37"/>
</g>
<line x1="124.42" y1="42.45" x2="722.4" y2="42.45" stroke="#000" stroke-width="1.38" stroke-linecap="round" stroke-dasharray="4.1,6.274"/>
<rect x="124.6" y="25.0" width="597.80" height="286.35" fill="none" stroke="#000" stroke-width="1.38"/>
<g stroke="#000" stroke-width="1.38" stroke-linecap="round" fill="none">
<line x1="146.72" y1="311.35" x2="700.22" y2="311.35"/>
<line x1="146.72" y1="311.35" x2="146.72" y2="323.85"/>
<line x1="331.22" y1="311.35" x2="331.22" y2="323.85"/>
<line x1="515.72" y1="311.35" x2="515.72" y2="323.85"/>
<line x1="700.22" y1="311.35" x2="700.22" y2="323.85"/>
<line x1="124.6" y1="303.65" x2="124.6" y2="28.70"/>
<line x1="124.6" y1="303.65" x2="112.1" y2="303.65"/>
<line x1="124.6" y1="248.66" x2="112.1" y2="248.66"/>
<line x1="124.6" y1="193.67" x2="112.1" y2="193.67"/>
<line x1="124.6" y1="138.68" x2="112.1" y2="138.68"/>
<line x1="124.6" y1="83.69" x2="112.1" y2="83.69"/>
<line x1="124.6" y1="28.70" x2="112.1" y2="28.70"/>
</g>
<g font-family="Liberation Sans, sans-serif" font-size="20.7px" fill="#000" stroke="#000" stroke-width="0.14">
<g transform="translate(146.72,356.60) rotate(0.03) scale(1,1.045)"><text x="-14.39" xml:space="preserve">0.0</text></g>
<g transform="translate(331.22,356.60) rotate(0.03) scale(1,1.045)"><text x="-14.39" xml:space="preserve">0.5</text></g>
<g transform="translate(515.72,356.60) rotate(0.03) scale(1,1.045)"><text transform="translate(-14.39,0)" clip-path="url(#c1)">1</text><text x="-2.88" xml:space="preserve">.0</text></g>
<g transform="translate(700.22,356.60) rotate(0.03) scale(1,1.045)"><text transform="translate(-14.39,0)" clip-path="url(#c1)">1</text><text x="-2.88" xml:space="preserve">.5</text></g>
<g transform="translate(94.80,303.65) rotate(-89.97) scale(1,1.045)"><text x="-14.39" xml:space="preserve">0.0</text></g>
<g transform="translate(94.80,248.66) rotate(-89.97) scale(1,1.045)"><text x="-14.39" xml:space="preserve">0.2</text></g>
<g transform="translate(94.80,193.67) rotate(-89.97) scale(1,1.045)"><text x="-14.39" xml:space="preserve">0.4</text></g>
<g transform="translate(94.80,138.68) rotate(-89.97) scale(1,1.045)"><text x="-14.39" xml:space="preserve">0.6</text></g>
<g transform="translate(94.80,83.69) rotate(-89.97) scale(1,1.045)"><text x="-14.39" xml:space="preserve">0.8</text></g>
<g transform="translate(94.80,28.70) rotate(-89.97) scale(1,1.045)"><text transform="translate(-14.39,0)" clip-path="url(#c1)">1</text><text x="-2.88" xml:space="preserve">.0</text></g>
<text transform="translate(45.0,168.5) rotate(-89.97) scale(1,1.0)" text-anchor="middle">empirical cdf</text>
<text transform="translate(393.8,401.4) rotate(0.03) scale(1,1.0)">2log<tspan font-family="Liberation Serif, serif" font-size="21.94px" dx="1.2" stroke-width="0.4">λ</tspan><tspan font-size="14.08px" dx="0.1" dy="4.0">n</tspan></text>
<rect x="441.85" y="138.7" width="211.15" height="149.50" fill="#fff" stroke="#000" stroke-width="1.38"/>
<line x1="460.45" y1="163.62" x2="497.95" y2="163.62" stroke="#ff0000" stroke-width="1.38" stroke-linecap="round"/>
<line x1="460.45" y1="188.53" x2="497.95" y2="188.53" stroke="#0000ff" stroke-width="1.38" stroke-linecap="round"/>
<line x1="460.45" y1="213.45" x2="497.95" y2="213.45" stroke="#8ee5ee" stroke-width="1.38" stroke-linecap="round"/>
<line x1="460.45" y1="238.37" x2="497.95" y2="238.37" stroke="#000000" stroke-width="1.38" stroke-linecap="round"/>
<line x1="460.45" y1="263.28" x2="497.95" y2="263.28" stroke="#8b7355" stroke-width="1.38" stroke-linecap="round"/>
<g transform="translate(516.90,168.90) rotate(0.03) scale(1,1.0)"><text x="0.00" xml:space="preserve">Gamma(3,</text><text transform="translate(97.77,0)" clip-path="url(#c1)">1</text><text x="109.29" xml:space="preserve">)</text></g>
<g transform="translate(516.90,193.81) rotate(0.03) scale(1,1.0)"><text x="0.00" xml:space="preserve">Beta(2,3)</text></g>
<g transform="translate(516.90,218.73) rotate(0.03) scale(1,1.0)"><text x="0.00" xml:space="preserve">Weibull(</text><text transform="translate(74.39,0)" clip-path="url(#c1)">1</text><text x="85.91" xml:space="preserve">.5,</text><text transform="translate(108.92,0)" clip-path="url(#c1)">1</text><text x="120.44" xml:space="preserve">)</text></g>
<g transform="translate(516.90,243.65) rotate(0.03) scale(1,1.0)"><text x="0.00" xml:space="preserve">Laplace</text></g>
<text font-size="10px" transform="translate(516.85,266.40) rotate(0.03) scale(1.954,2.086)" stroke-width="0.15">F</text>
<text font-family="Liberation Serif, serif" font-size="10px" transform="translate(530.85,269.89) rotate(0.03) scale(1.184,1.414)" font-style="italic" stroke-width="0.3">χ</text>
<text font-size="10px" transform="translate(536.73,265.10) rotate(0.03) scale(1.032,1.089)" stroke-width="0.25">2</text>
<text font-size="10px" transform="translate(537.31,274.70) rotate(0.03) scale(0.905,0.988)" stroke-width="0.25" clip-path="url(#c1s)">1</text>
</g>
</svg>
</body></html>
